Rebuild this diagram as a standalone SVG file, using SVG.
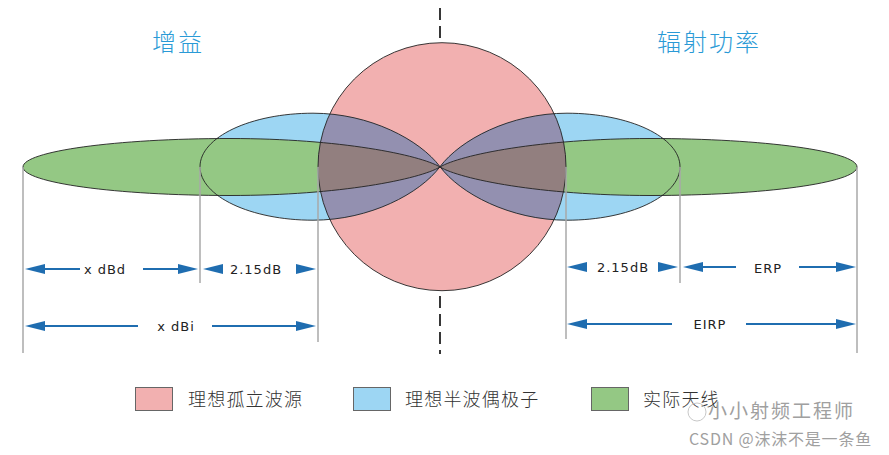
<svg xmlns="http://www.w3.org/2000/svg" width="889" height="455" viewBox="0 0 889 455">
<style>
.title{font-family:"Noto Sans CJK SC","Noto Sans",sans-serif;font-size:24px;fill:#2a9ad6;letter-spacing:2px;font-weight:300}
.lab{font-family:"DejaVu Sans","Liberation Sans",sans-serif;font-size:13px;fill:#222;text-anchor:middle;letter-spacing:1px}
.leg{font-family:"Noto Sans CJK SC","Noto Sans",sans-serif;font-size:18px;fill:#333;letter-spacing:1.2px;font-weight:300}
.ext{stroke:#a8a8a8;stroke-width:1.5;fill:none}
.dim{stroke:#1f6db0;stroke-width:2;fill:none}
.head{fill:#1f6db0}
.outline{fill:none;stroke:#222;stroke-width:0.9}
.box{stroke:#666;stroke-width:1}
.wm{font-family:"Noto Sans CJK SC","Noto Sans",sans-serif;fill:#a0a0a0}
</style>
<defs>
<path id="blueL" d="M200,166.7 C200,137.2 250.6,113.2 313,113.2 C370,113.2 420,140 440,166.7 C420,193.4 370,220.2 313,220.2 C250.6,220.2 200,196.2 200,166.7 Z"/>
<path id="greenL" d="M23,167 C23,151.3 115.7,138.5 230,138.5 C340,138.5 420,155 440,167 C420,179 340,195.5 230,195.5 C115.7,195.5 23,182.7 23,167 Z"/>
<clipPath id="circClip"><circle cx="442" cy="166.7" r="124"/></clipPath>
<path id="arrL" d="M0,0 L20,-5 L20,5 Z"/>
<path id="arrR" d="M0,0 L-20,-5 L-20,5 Z"/>
</defs>

<g id="titles">
<text class="title" x="152" y="51">增益</text>
<text class="title" x="657" y="51">辐射功率</text>
</g>

<g id="axis">
<line x1="440" y1="8" x2="440" y2="354" stroke="#222" stroke-width="1.8" stroke-dasharray="12,6"/>
</g>

<g id="isotropic">
<circle cx="442" cy="166.7" r="124" fill="#f2b0b0"/>
</g>

<g id="dipole">
<use href="#blueL" fill="#9dd6f3"/>
<use href="#blueL" fill="#9dd6f3" transform="translate(880,0) scale(-1,1)"/>
</g>

<g id="antenna">
<use href="#greenL" fill="#94c884"/>
<use href="#greenL" fill="#94c884" transform="translate(880,0) scale(-1,1)"/>
</g>

<g id="overlaps" clip-path="url(#circClip)">
<use href="#blueL" fill="#9390b0"/>
<use href="#blueL" fill="#9390b0" transform="translate(880,0) scale(-1,1)"/>
<use href="#greenL" fill="#927f7f"/>
<use href="#greenL" fill="#927f7f" transform="translate(880,0) scale(-1,1)"/>
</g>

<g id="outlines">
<circle class="outline" cx="442" cy="166.7" r="124"/>
<use href="#blueL" class="outline"/>
<use href="#blueL" class="outline" transform="translate(880,0) scale(-1,1)"/>
<use href="#greenL" class="outline"/>
<use href="#greenL" class="outline" transform="translate(880,0) scale(-1,1)"/>
</g>

<g id="connectors">
<line class="ext" x1="23" y1="167" x2="23" y2="353" stroke="#555"/>
<line class="ext" x1="200" y1="167" x2="200" y2="283"/>
<line class="ext" x1="318" y1="167" x2="318" y2="342"/>
<line class="ext" x1="566" y1="167" x2="566" y2="339"/>
<line class="ext" x1="680" y1="167" x2="680" y2="283"/>
<line class="ext" x1="857" y1="167" x2="857" y2="353"/>

<line class="dim" x1="44" y1="269" x2="80" y2="269"/>
<line class="dim" x1="143" y1="269" x2="180" y2="269"/>
<use href="#arrL" class="head" x="25" y="269"/>
<use href="#arrR" class="head" x="198" y="269"/>
<use href="#arrL" class="head" x="203" y="269"/>
<use href="#arrR" class="head" x="316" y="269"/>

<line class="dim" x1="44" y1="326" x2="138" y2="326"/>
<line class="dim" x1="212" y1="326" x2="298" y2="326"/>
<use href="#arrL" class="head" x="25" y="326"/>
<use href="#arrR" class="head" x="316" y="326"/>

<use href="#arrL" class="head" x="567" y="267"/>
<use href="#arrR" class="head" x="678" y="267"/>
<use href="#arrL" class="head" x="683" y="267"/>
<line class="dim" x1="702" y1="267" x2="736" y2="267"/>
<line class="dim" x1="799" y1="267" x2="837" y2="267"/>
<use href="#arrR" class="head" x="856" y="267"/>

<use href="#arrL" class="head" x="567" y="324"/>
<line class="dim" x1="586" y1="324" x2="672" y2="324"/>
<line class="dim" x1="746" y1="324" x2="837" y2="324"/>
<use href="#arrR" class="head" x="856" y="324"/>
</g>

<g id="labels">
<text class="lab" x="105" y="274">x dBd</text>
<text class="lab" x="256" y="274">2.15dB</text>
<text class="lab" x="176" y="331">x dBi</text>
<text class="lab" x="623" y="272">2.15dB</text>
<text class="lab" x="768" y="273">ERP</text>
<text class="lab" x="710" y="329">EIRP</text>
</g>

<g id="legend">
<rect class="box" x="135.5" y="387.5" width="37" height="23" fill="#f2b0b0"/>
<text class="leg" x="188" y="406">理想孤立波源</text>
<rect class="box" x="353.5" y="387.5" width="37" height="23" fill="#9dd6f3"/>
<text class="leg" x="405" y="406">理想半波偶极子</text>
<rect class="box" x="591.5" y="387.5" width="37" height="23" fill="#94c884"/>
<text class="leg" x="643" y="406">实际天线</text>
</g>

<g id="watermark">
<circle cx="697" cy="412" r="9" fill="none" stroke="#c8c8c8" stroke-width="1"/>
<text class="wm" x="708" y="418" font-size="19" letter-spacing="2">小小射频工程师</text>
<text class="wm" x="872" y="445" font-size="16" letter-spacing="0.8" text-anchor="end">CSDN @沫沫不是一条鱼</text>
</g>
</svg>
